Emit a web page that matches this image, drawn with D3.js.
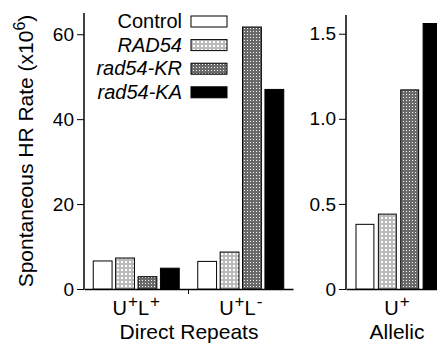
<!DOCTYPE html>
<html>
<head>
<meta charset="utf-8">
<script src="https://cdn.jsdelivr.net/npm/d3@7"></script>
<style>
  body { margin: 0; background: #fff; }
  svg text { font-family: "Liberation Sans", Arial, sans-serif; fill: #000; }
</style>
</head>
<body>
<div class="chart"></div>
<script>
var svgWidth = 437;
var svgHeight = 344;

// data
var strains = ["Control", "RAD54", "rad54-KR", "rad54-KA"];
var repeatGroups = ["U+L+", "U+L-"];
var repeatControl = [6.6, 6.5];
var repeatRAD54 = [7.3, 8.7];
var repeatKR = [2.9, 61.7];
var repeatKA = [4.9, 47.0];
var allelicGroups = ["U+"];
var allelicValues = [0.38, 0.44, 1.17, 1.56];
var leftTicks = [0, 20, 40, 60];
var rightTicks = [0, 0.5, 1.0, 1.5];

var svg = d3.select(".chart")
  .append("svg")
  .attr("width", svgWidth)
  .attr("height", svgHeight);

// fill patterns
var defs = svg.append("defs");
var p1 = defs.append("pattern").attr("id", "pRad54")
  .attr("width", 4).attr("height", 4).attr("patternUnits", "userSpaceOnUse");
p1.append("rect").attr("width", 4).attr("height", 4).attr("fill", "#bbb");
p1.append("rect").attr("x", 1).attr("y", 1).attr("width", 2).attr("height", 2).attr("fill", "#fff");
var p2 = defs.append("pattern").attr("id", "pKR")
  .attr("width", 3).attr("height", 3).attr("patternUnits", "userSpaceOnUse");
p2.append("rect").attr("width", 3).attr("height", 3).attr("fill", "#6a6a6a");
p2.append("rect").attr("x", 1).attr("y", 1).attr("width", 1).attr("height", 1).attr("fill", "#f4f4f4");

var fills = ["#fff", "url(#pRad54)", "url(#pKR)", "#000"];
var italic = [false, true, true, true];

var baseY = 289;

// left panel
var yLeft = d3.scaleLinear().domain([0, 65]).range([baseY, 13]);
var xLeft = d3.scaleBand().domain(repeatGroups).range([84, 293]);
var xInner = d3.scaleBand().domain(strains).range([0, 86]).paddingInner(0.16);

var left = svg.append("g");
left.append("g")
  .attr("transform", "translate(84,0)")
  .call(d3.axisLeft(yLeft).tickValues(leftTicks).tickSize(7).tickPadding(3).tickFormat(d3.format("d")))
  .call(g => g.select(".domain").attr("d", `M0,${yLeft(65)}V${baseY}`));

// x baseline and separator tick
left.append("g")
  .attr("transform", `translate(0,${baseY})`)
  .call(d3.axisBottom(xLeft).tickValues([]).tickSizeOuter(0))
  .call(g => g.append("line").attr("x1", xLeft("U+L-")).attr("x2", xLeft("U+L-"))
    .attr("y1", 0).attr("y2", 5).attr("stroke", "#000"));

var repeatRows = repeatGroups.map((g, i) => ({
  group: g,
  values: [repeatControl[i], repeatRAD54[i], repeatKR[i], repeatKA[i]]
}));

repeatRows.forEach(function(row) {
  var x0 = xLeft(row.group) + (xLeft.bandwidth() - 86) / 2;
  left.selectAll(null)
    .data(row.values)
    .enter()
    .append("rect")
    .attr("x", (d, i) => x0 + xInner(strains[i]))
    .attr("y", d => yLeft(d))
    .attr("width", xInner.bandwidth())
    .attr("height", d => baseY - yLeft(d))
    .attr("fill", (d, i) => fills[i])
    .attr("stroke", "#000")
    .attr("stroke-width", 1);
});

// right panel
var yRight = d3.scaleLinear().domain([0, 1.61]).range([baseY, 15]);
var xRight = d3.scaleBand().domain(allelicGroups).range([346, 451]);
var xInnerR = d3.scaleBand().domain(strains).range([0, 85]).paddingInner(0.2);

var right = svg.append("g");
right.append("g")
  .attr("transform", "translate(346,0)")
  .call(d3.axisLeft(yRight).tickValues(rightTicks).tickSize(7).tickPadding(3)
    .tickFormat(d => d === 0 ? "0" : d3.format(".1f")(d)))
  .call(g => g.select(".domain").attr("d", `M0,${yRight(1.61)}V${baseY}`));

right.append("g")
  .attr("transform", `translate(0,${baseY})`)
  .call(d3.axisBottom(xRight).tickValues([]).tickSizeOuter(0));

var xr0 = xRight("U+") + (xRight.bandwidth() - 85) / 2;
right.selectAll(null)
  .data(allelicValues)
  .enter()
  .append("rect")
  .attr("x", (d, i) => xr0 + xInnerR(strains[i]))
  .attr("y", d => yRight(d))
  .attr("width", xInnerR.bandwidth())
  .attr("height", d => baseY - yRight(d))
  .attr("fill", (d, i) => fills[i])
  .attr("stroke", "#000")
  .attr("stroke-width", 1);

svg.selectAll(".tick text").attr("font-size", 19).attr("font-family", "Liberation Sans, Arial, sans-serif");
svg.selectAll(".domain").attr("stroke-width", 1.5);

// category labels with superscripts
function supLabel(x, base, sups) {
  var t = svg.append("text").attr("x", x).attr("y", 315)
    .attr("text-anchor", "middle").attr("font-size", 20);
  base.forEach(function(b, i) {
    t.append("tspan").text(b).attr("dy", i === 0 ? 0 : 8);
    t.append("tspan").text(sups[i]).attr("font-size", 17).attr("dy", -8)
      .attr("dx", 1);
  });
}
supLabel(xLeft("U+L+") + xLeft.bandwidth() / 2, ["U", "L"], ["+", "+"]);
supLabel(xLeft("U+L-") + xLeft.bandwidth() / 2, ["U", "L"], ["+", "-"]);
supLabel(397, ["U"], ["+"]);

svg.append("text").attr("x", 189).attr("y", 339).attr("text-anchor", "middle")
  .attr("font-size", 21).text("Direct Repeats");
svg.append("text").attr("x", 397).attr("y", 339).attr("text-anchor", "middle")
  .attr("font-size", 21).text("Allelic");

// y label
var yl = svg.append("text")
  .attr("transform", "translate(33,151) rotate(-90)")
  .attr("text-anchor", "middle")
  .attr("font-size", 21);
yl.append("tspan").text("Spontaneous HR Rate (x10");
yl.append("tspan").text("6").attr("font-size", 16).attr("dy", -8);
yl.append("tspan").text(")").attr("dy", 8);

// legend
var legend = svg.append("g");
strains.forEach(function(s, i) {
  var cy = 21 + i * 23.6;
  legend.append("text")
    .attr("x", 182).attr("y", cy + 7)
    .attr("text-anchor", "end")
    .attr("font-size", 20)
    .attr("font-style", italic[i] ? "italic" : "normal")
    .text(s);
  legend.append("rect")
    .attr("x", 191).attr("y", cy - 5)
    .attr("width", 36).attr("height", 11)
    .attr("fill", fills[i])
    .attr("stroke", "#000")
    .attr("stroke-width", 1);
});
</script>
</body>
</html>
